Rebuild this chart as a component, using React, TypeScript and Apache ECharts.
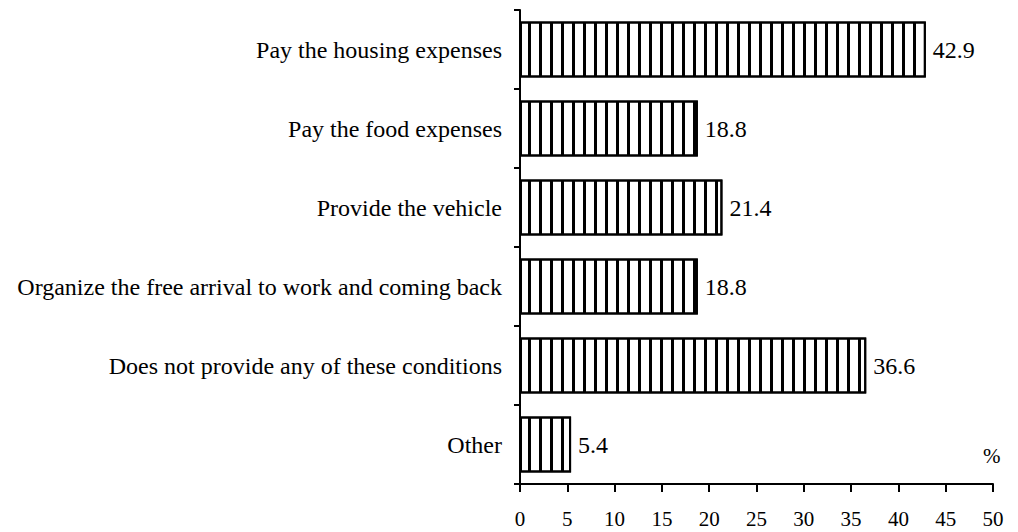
import React, { useEffect, useRef } from "react";
import * as echarts from "echarts";

const categories = [
  "Pay the housing expenses",
  "Pay the food expenses",
  "Provide the vehicle",
  "Organize the free arrival to work and coming back",
  "Does not provide any of these conditions",
  "Other",
];
const values = [42.9, 18.8, 21.4, 18.8, 36.6, 5.4];
const xTicks = { min: 0, max: 50, interval: 5 };
const unitLabel = "%";

const FONT = "Liberation Serif";

export default function App() {
  const ref = useRef<HTMLDivElement>(null);
  useEffect(() => {
    if (!ref.current) return;
    const chart = echarts.init(ref.current, null, { renderer: "svg" });
    chart.setOption({
      animation: false,
      backgroundColor: "#fff",
      grid: {
        left: 520,
        right: 25,
        top: 10,
        bottom: 48,
        containLabel: false,
        outerBoundsMode: "none",
      },
      xAxis: {
        type: "value",
        min: xTicks.min,
        max: xTicks.max,
        interval: xTicks.interval,
        axisLine: { show: true, lineStyle: { color: "#000", width: 2 } },
        axisTick: { show: true, inside: false, length: 8, lineStyle: { color: "#000", width: 2 } },
        axisLabel: { color: "#000", fontFamily: FONT, fontSize: 21, margin: 24 },
        splitLine: { show: false },
      },
      yAxis: {
        type: "category",
        inverse: true,
        data: categories,
        axisLine: { show: true, lineStyle: { color: "#000", width: 2 } },
        axisTick: { show: true, inside: false, length: 6, lineStyle: { color: "#000", width: 2 } },
        axisLabel: { color: "#000", fontFamily: FONT, fontSize: 24, margin: 18 },
      },
      graphic: [
        {
          type: "text",
          left: 983,
          top: 445,
          style: { text: unitLabel, fill: "#000", font: `21px ${FONT}` },
        },
      ],
      series: [
        {
          type: "bar",
          data: values,
          barCategoryGap: "29%",
          itemStyle: {
            color: "#fff",
            borderColor: "#000",
            borderWidth: 2,
            decal: {
              symbol: "rect",
              symbolSize: 1,
              color: "#000",
              backgroundColor: "transparent",
              dashArrayX: [3, 8],
              dashArrayY: [10, 0],
              rotation: 0,
            },
          },
          label: {
            show: true,
            position: "right",
            distance: 7,
            color: "#000",
            fontFamily: FONT,
            fontSize: 24,
            formatter: (p: any) => p.value.toFixed(1),
          },
        },
      ],
    });
    return () => chart.dispose();
  }, []);
  return (
    <div
      ref={ref}
      style={{ position: "absolute", left: 0, top: 0, width: 1018, height: 532 }}
    />
  );
}
